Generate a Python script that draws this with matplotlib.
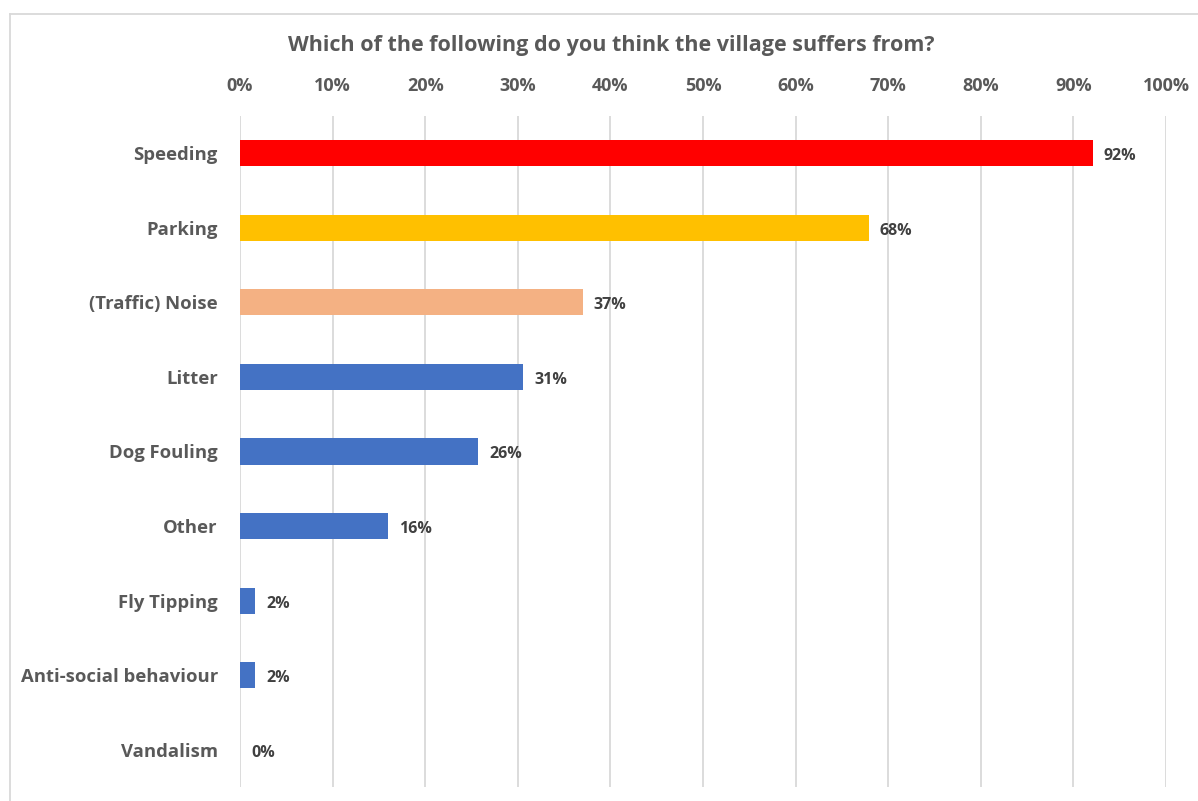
import matplotlib
matplotlib.use("Agg")
import matplotlib.pyplot as plt
from matplotlib.lines import Line2D

plt.rcParams['font.family'] = ['Open Sans', 'DejaVu Sans']

# survey answers, top to bottom
categories = ["Speeding", "Parking", "(Traffic) Noise", "Litter", "Dog Fouling",
              "Other", "Fly Tipping", "Anti-social behaviour", "Vandalism"]
shares = [92.1, 67.9, 37.0, 30.6, 25.7, 16.0, 1.6, 1.6, 0.0]
bar_colors = ["#ff0000", "#ffc000", "#f4b183", "#4472c4", "#4472c4",
              "#4472c4", "#4472c4", "#4472c4", "#4472c4"]
tick_values = list(range(0, 101, 10))
tick_labels = [f"{v}%" for v in tick_values]

W, H = 1198, 801
fig = plt.figure(figsize=(W / 100, H / 100), dpi=100)
ax = fig.add_axes([240 / W, 1 - 787 / H, (1166 - 240) / W, (787 - 116) / H])

y = list(range(len(categories)))
ax.barh(y, shares, height=0.35, color=bar_colors, zorder=3)

for yi, v in zip(y, shares):
    ax.text(v + 1.2, yi + 0.04, f"{v:.0f}%", va="center", ha="left",
            fontsize=11.5, fontweight="bold", color="#404040")

ax.set_xlim(0, 100)
ax.set_ylim(len(categories) - 0.5, -0.5)
ax.set_xticks(tick_values)
ax.set_xticklabels(tick_labels)
ax.xaxis.tick_top()
ax.set_yticks(y)
ax.set_yticklabels(categories)
ax.tick_params(axis="x", length=0, pad=15, labelsize=13, labelcolor="#595959")
ax.tick_params(axis="y", length=0, pad=16, labelsize=13.3, labelcolor="#595959")
for lbl in ax.get_xticklabels() + ax.get_yticklabels():
    lbl.set_fontweight("bold")

ax.grid(axis="x", color="#d9d9d9", linewidth=1.3, zorder=0)
for s in ax.spines.values():
    s.set_visible(False)

fig.text(611 / W, 1 - 45 / H, "Which of the following do you think the village suffers from?",
         ha="center", va="center", fontsize=15.5, fontweight="bold", color="#595959")

# chart area frame
fig.add_artist(Line2D([10 / W, 10 / W], [0, 1 - 14 / H], transform=fig.transFigure,
                      color="#d9d9d9", linewidth=1.3))
fig.add_artist(Line2D([10 / W, 1], [1 - 14 / H, 1 - 14 / H], transform=fig.transFigure,
                      color="#d9d9d9", linewidth=1.3))

fig.savefig("out.png", dpi=100)
